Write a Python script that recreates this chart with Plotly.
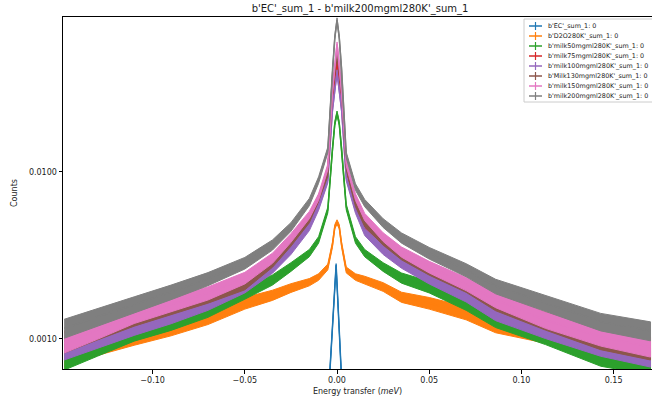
import plotly.graph_objects as go

# Energy transfer grid (meV) shared by the sample spectra
energy = [-0.148, -0.13, -0.11, -0.09, -0.07, -0.05, -0.035, -0.025, -0.015, -0.01,
          -0.005, -0.0025, -0.0012, 0.0, 0.0012, 0.0025, 0.005, 0.01, 0.015, 0.025,
          0.035, 0.05, 0.07, 0.086, 0.113, 0.143, 0.17]

# Relative uncertainty of the summed counts at each energy
rel_err = [0.13, 0.12, 0.11, 0.10, 0.09, 0.08, 0.07, 0.06, 0.05, 0.045,
           0.04, 0.035, 0.03, 0.03, 0.03, 0.035, 0.04, 0.045, 0.05, 0.06,
           0.07, 0.08, 0.09, 0.10, 0.11, 0.12, 0.13]

# Empty cell: narrow elastic line only
ec_energy = [-0.0045, -0.0005, 0.003]
ec_counts = [0.000489, 0.00277, 0.000432]
ec_err = [0.02, 0.02, 0.02]

d2o = [0.000780, 0.000905, 0.00103, 0.00116, 0.00134, 0.00164, 0.00183, 0.00202, 0.00219, 0.00235,
       0.00270, 0.00366, 0.00470, 0.00502, 0.00470, 0.00366, 0.00259, 0.00235, 0.00226, 0.00205,
       0.00178, 0.00164, 0.00143, 0.00121, 0.00106, 0.000835, 0.000748]
milk50 = [0.000748, 0.000895, 0.00109, 0.00125, 0.00148, 0.00188, 0.00226, 0.00270, 0.00327, 0.00392,
          0.00592, 0.01355, 0.0195, 0.0225, 0.0195, 0.01355, 0.00617, 0.00392, 0.00327, 0.00270,
          0.00232, 0.00205, 0.00163, 0.00130, 0.00104, 0.000780, 0.000698]
milk75 = [0.000986, 0.00116, 0.00141, 0.00159, 0.00183, 0.00226, 0.00289, 0.00376, 0.00516, 0.00680,
          0.01000, 0.0270, 0.0350, 0.0469, 0.0350, 0.0270, 0.01050, 0.00617, 0.00469, 0.00376,
          0.00310, 0.00259, 0.00205, 0.00169, 0.00130, 0.00104, 0.000910]
milk100 = [0.000859, 0.00100, 0.00118, 0.00137, 0.00163, 0.00205, 0.00266, 0.00341, 0.00469, 0.00617,
           0.00895, 0.0235, 0.0310, 0.0397, 0.0310, 0.0235, 0.00920, 0.00592, 0.00438, 0.00341,
           0.00285, 0.00232, 0.00183, 0.00143, 0.00113, 0.000895, 0.000780]
milk130 = [0.000946, 0.00112, 0.00134, 0.00156, 0.00180, 0.00214, 0.00289, 0.00382, 0.00523, 0.00700,
           0.00980, 0.0303, 0.0400, 0.0523, 0.0400, 0.0303, 0.01072, 0.00650, 0.00495, 0.00388,
           0.00320, 0.00262, 0.00209, 0.00164, 0.00127, 0.00098, 0.000860]
milk150 = [0.000946, 0.00113, 0.00139, 0.00161, 0.00188, 0.00232, 0.00305, 0.00403, 0.00553, 0.00708,
           0.01072, 0.0303, 0.0443, 0.0583, 0.0443, 0.0303, 0.01132, 0.00708, 0.00538, 0.00408,
           0.00332, 0.00270, 0.00214, 0.00171, 0.00130, 0.00103, 0.000895]
milk200 = [0.00116, 0.00135, 0.00161, 0.00191, 0.00229, 0.00285, 0.00366, 0.00469, 0.00661, 0.00895,
           0.01355, 0.0408, 0.0640, 0.0813, 0.0640, 0.0408, 0.01264, 0.00813, 0.00652, 0.00495,
           0.00403, 0.00327, 0.00259, 0.00207, 0.00164, 0.00127, 0.00112]

series_names = ["b'EC'_sum_1: 0", "b'D2O280K'_sum_1: 0", "b'milk50mgml280K'_sum_1: 0",
                "b'milk75mgml280K'_sum_1: 0", "b'milk100mgml280K'_sum_1: 0",
                "b'Milk130mgml280K'_sum_1: 0", "b'milk150mgml280K'_sum_1: 0",
                "b'milk200mgml280K'_sum_1: 0"]
colors = ["#1f77b4", "#ff7f0e", "#2ca02c", "#d62728", "#9467bd", "#8c564b", "#e377c2", "#7f7f7f"]

x_ticks = [-0.10, -0.05, 0.0, 0.05, 0.10, 0.15]
x_tick_labels = ["\u22120.10", "\u22120.05", "0.00", "0.05", "0.10", "0.15"]
y_ticks = [0.001, 0.01]
y_tick_labels = ["0.0010", "0.0100"]

FONT = "DejaVu Sans"
TEXT = "#1a1a1a"
W, H = 652, 405
ML, MR, MT, MB = 63, 0, 17, 36
PW, PH = W - ML - MR, H - MT - MB


def px(xp):
    """pixel column -> paper x"""
    return (xp - ML) / PW


def py(yp):
    """pixel row (from top) -> paper y"""
    return (H - MB - yp) / PH


fig = go.Figure()

all_series = [(ec_energy, ec_counts, ec_err)] + [
    (energy, s, rel_err) for s in (d2o, milk50, milk75, milk100, milk130, milk150, milk200)
]

for (xs, ys, errs), name, col in zip(all_series, series_names, colors):
    upper = [y * (1 + e) for y, e in zip(ys, errs)]
    lower = [y * (1 - e) for y, e in zip(ys, errs)]
    # error band around the counts
    fig.add_trace(go.Scatter(
        x=list(xs) + list(xs)[::-1], y=upper + lower[::-1],
        fill="toself", fillcolor=col, mode="lines",
        line=dict(color=col, width=1), showlegend=False, hoverinfo="skip"))
    # central line
    fig.add_trace(go.Scatter(
        x=xs, y=ys, mode="lines", line=dict(color=col, width=1.5),
        name=name, showlegend=False))

# Compact errorbar-style legend in the upper right corner
shapes = []
annotations = []
box_left, box_top, row0, row_step = 524, 19, 26, 10
shapes.append(dict(type="rect", xref="paper", yref="paper",
                   x0=px(box_left), x1=px(W + 10),
                   y0=py(box_top + len(series_names) * row_step + 3), y1=py(box_top),
                   line=dict(color="#cccccc", width=1),
                   fillcolor="rgba(255,255,255,0.85)", layer="above"))
for i, (name, col) in enumerate(zip(series_names, colors)):
    yc = row0 + i * row_step
    shapes.append(dict(type="line", xref="paper", yref="paper",
                       x0=px(529), x1=px(542), y0=py(yc), y1=py(yc),
                       line=dict(color=col, width=1.5), layer="above"))
    shapes.append(dict(type="line", xref="paper", yref="paper",
                       x0=px(535.5), x1=px(535.5), y0=py(yc - 4), y1=py(yc + 4),
                       line=dict(color=col, width=1.2), layer="above"))
    annotations.append(dict(text=name, xref="paper", yref="paper",
                            x=px(546), y=py(yc), xanchor="left", yanchor="middle",
                            showarrow=False,
                            font=dict(family=FONT, size=6.4, color=TEXT)))

fig.update_layout(
    width=W, height=H,
    margin=dict(l=ML, r=MR, t=MT, b=MB, autoexpand=False),
    paper_bgcolor="white", plot_bgcolor="white",
    font=dict(family=FONT, size=8, color=TEXT),
    title=dict(text="b'EC'_sum_1 - b'milk200mgml280K'_sum_1",
               x=360 / W, xanchor="center", xref="container",
               y=1 - 8.5 / H, yanchor="middle", yref="container",
               font=dict(family=FONT, size=10, color=TEXT)),
    showlegend=False,
    shapes=shapes,
    annotations=annotations,
)

fig.update_xaxes(
    range=[-0.1486, 0.1708], showgrid=False, zeroline=False,
    showline=True, linecolor="black", linewidth=1, mirror=True,
    ticks="outside", ticklen=3.5, tickcolor="black", tickwidth=0.8,
    tickvals=x_ticks, ticktext=x_tick_labels,
    title=dict(text="Energy transfer (<i>meV</i>)", standoff=4,
               font=dict(family=FONT, size=8, color=TEXT)),
)
fig.update_yaxes(
    type="log", range=[-3.18, -1.072], showgrid=False, zeroline=False,
    showline=True, linecolor="black", linewidth=1,
    ticks="outside", ticklen=3.5, tickcolor="black", tickwidth=0.8,
    tickvals=y_ticks, ticktext=y_tick_labels,
    title=dict(text="Counts", standoff=10,
               font=dict(family=FONT, size=8, color=TEXT)),
)

fig.write_html("out.html")
